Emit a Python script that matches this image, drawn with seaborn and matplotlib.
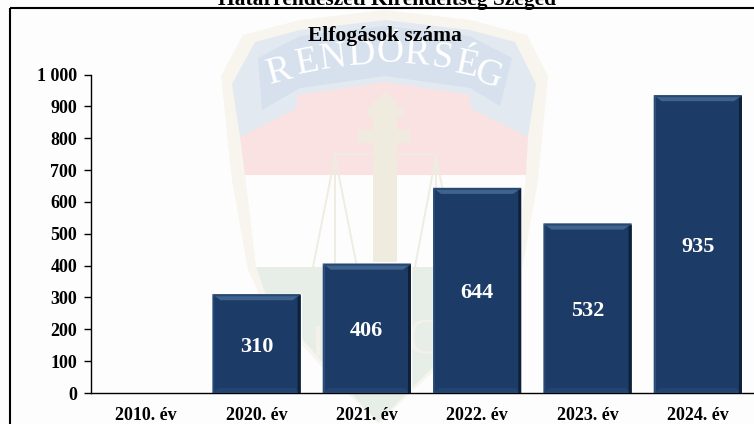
import matplotlib
matplotlib.use("Agg")
import matplotlib.pyplot as plt
import numpy as np
import pandas as pd
import seaborn as sns
from matplotlib.patches import Polygon, Rectangle

# adatok
years = ["2010. év", "2020. év", "2021. év", "2022. év", "2023. év", "2024. év"]
arrests = [0, 310, 406, 644, 532, 935]
y_ticks = [0, 100, 200, 300, 400, 500, 600, 700, 800, 900, 1000]
y_labels = ["0", "100", "200", "300", "400", "500", "600", "700", "800", "900", "1 000"]

W, H = 754, 424
BAR = "#1c3b66"
PAPER = "#fdfdfd"

sns.set_theme(style="white")
plt.rcParams["font.family"] = ["Liberation Serif", "DejaVu Serif"]

fig = plt.figure(figsize=(W / 100, H / 100), dpi=100, facecolor=PAPER)

# --- emblema a hatterben, pixel koordinatakban ---
bg = fig.add_axes([0, 0, 1, 1], zorder=0)
bg.set_xlim(0, W)
bg.set_ylim(H, 0)
bg.axis("off")

def shape(pts, color, z=1):
    bg.add_patch(Polygon(pts, closed=True, facecolor=color, edgecolor="none", zorder=z))

def thin(x, y, color="#efece2", lw=1.4):
    bg.plot(x, y, color=color, lw=lw, zorder=3)

# pajzs
shape([(221, 76), (243, 35), (300, 20), (385, 10), (470, 20), (527, 35), (548, 76),
       (538, 180), (522, 270), (495, 305), (440, 365), (378, 424), (320, 365), (262, 300), (248, 270), (232, 180)], "#f7f5ee", 1)
shape([(232, 84), (255, 42), (300, 30), (385, 20), (470, 30), (515, 42), (536, 84), (528, 137), (240, 137)], "#e3e9f1", 2)
# szalag
shape([(258, 58), (300, 36), (385, 26), (470, 36), (512, 58), (500, 106), (470, 88), (385, 76), (300, 88), (262, 110)], "#d6e1ed", 2)
shape([(240, 137), (297, 108), (297, 95), (385, 82), (470, 95), (470, 108), (528, 137), (526, 175), (245, 175)], "#fbe2e2", 2)
shape([(245, 175), (526, 175), (516, 267), (256, 267)], PAPER, 2)
shape([(256, 267), (516, 267), (490, 305), (435, 365), (378, 422), (325, 365), (268, 300)], "#e6eee7", 2)

# kereszt
shape([(373, 102), (385, 92), (397, 102), (397, 262), (373, 262)], "#f0ebdf", 3)
shape([(358, 130), (410, 130), (410, 143), (358, 143)], "#f0ebdf", 3)
shape([(367, 108), (403, 108), (403, 117), (367, 117)], "#f0ebdf", 3)

# merleg
thin([333, 437], [154, 154])
thin([335, 312], [156, 272])
thin([335, 358], [156, 272])
thin([335, 335], [156, 272])
thin([436, 414], [156, 272])
thin([436, 459], [156, 272])
thin([436, 436], [156, 272])

# felirat a szalagon
letters = "RENDŐRSÉG"
xs = [280, 307, 333, 362, 390, 417, 442, 467, 488]
ys = [72, 63, 58, 55, 53, 55, 58, 65, 75]
rots = [15, 11, 7, 3, 0, -4, -8, -12, -18]
for ch, lx, ly, rot in zip(letters, xs, ys, rots):
    bg.text(lx, ly, ch, fontsize=27, color="#ffffff", ha="center", va="center", rotation=rot, zorder=4)
bg.text(424, 340, "C", fontsize=36, color="#f3f1ea", ha="center", va="center", zorder=4)
bg.add_patch(Rectangle((316, 326), 4, 30, facecolor="#f3f1ea", edgecolor="none", zorder=4))

# keret
bg.add_patch(Rectangle((9.5, 7.5), W + 20, H + 20, fill=False, edgecolor="black", lw=1.5, zorder=5))

# --- diagram ---
ax = fig.add_axes([91 / W, 1 - 393 / H, (753 - 91) / W, (393 - 74.5) / H], zorder=2)
ax.patch.set_alpha(0)
df = pd.DataFrame({"year": years, "arrests": arrests})
sns.barplot(data=df, x="year", y="arrests", color=BAR, saturation=1, width=0.8, ax=ax)

ax.set_ylim(0, 1000)
ax.set_xlim(-0.5, 5.5)
ax.set_xlabel("")
ax.set_ylabel("")
ax.set_yticks(y_ticks)
ax.set_yticklabels(y_labels, fontsize=13, fontweight="bold", color="black")
ax.set_xticks(np.arange(-0.5, 6, 1), minor=True)
ax.set_xticks(range(6))
ax.set_xticklabels(years, fontsize=13, fontweight="bold", color="black")
ax.tick_params(axis="x", which="major", length=0, pad=10)
ax.tick_params(axis="x", which="minor", length=4, width=1, color="black", direction="out")
ax.tick_params(axis="y", length=5, width=1, color="black", direction="out", pad=5, left=True)
for s in ["top", "right"]:
    ax.spines[s].set_visible(False)
for s in ["left", "bottom"]:
    ax.spines[s].set_color("black")
    ax.spines[s].set_linewidth(1)

# szegely a hasabokon (1 px az adategysegben)
px_x = 1 / 110.3
px_y = 1000 / 318.5
for bar, val in zip(ax.patches, arrests):
    if val == 0:
        continue
    x0 = bar.get_x()
    x1 = x0 + bar.get_width()
    top = bar.get_height()
    ax.add_patch(Polygon([(x0, top), (x1, top), (x1 - 8 * px_x, top - 6 * px_y), (x0 + 8 * px_x, top - 6 * px_y)],
                         facecolor="#3f638f", edgecolor="none", zorder=3))
    ax.add_patch(Polygon([(x0, top), (x1, top), (x1 - 2 * px_x, top - 2 * px_y), (x0 + 2 * px_x, top - 2 * px_y)],
                         facecolor="#27486f", edgecolor="none", zorder=3))
    ax.add_patch(Polygon([(x0, 0), (x1, 0), (x1 - 6 * px_x, 5 * px_y), (x0 + 6 * px_x, 5 * px_y)],
                         facecolor="#234470", edgecolor="none", zorder=3))
    ax.add_patch(Polygon([(x0, top), (x0 + 2 * px_x, top - 2 * px_y), (x0 + 2 * px_x, 0), (x0, 0)],
                         facecolor="#254a78", edgecolor="none", zorder=3))
    ax.add_patch(Polygon([(x1, top), (x1 - 3 * px_x, top - 3 * px_y), (x1 - 3 * px_x, 0), (x1, 0)],
                         facecolor="#0f2138", edgecolor="none", zorder=3))
    ax.text(x0 + bar.get_width() / 2, val / 2 - 3 * px_y, str(val), color="white",
            fontsize=16, fontweight="bold", ha="center", va="center", zorder=4)

# cimek
fig.text(385 / W, 1 - 36 / H, "Elfogások száma", fontsize=15.5, fontweight="bold", ha="center", va="center", color="black", zorder=6)
fig.text(387 / W, 1 - 0 / H, "Határrendészeti Kirendeltség Szeged", fontsize=15.5, fontweight="bold", ha="center", va="center", color="black", zorder=6)

fig.savefig("out.png", dpi=100, facecolor=PAPER)
